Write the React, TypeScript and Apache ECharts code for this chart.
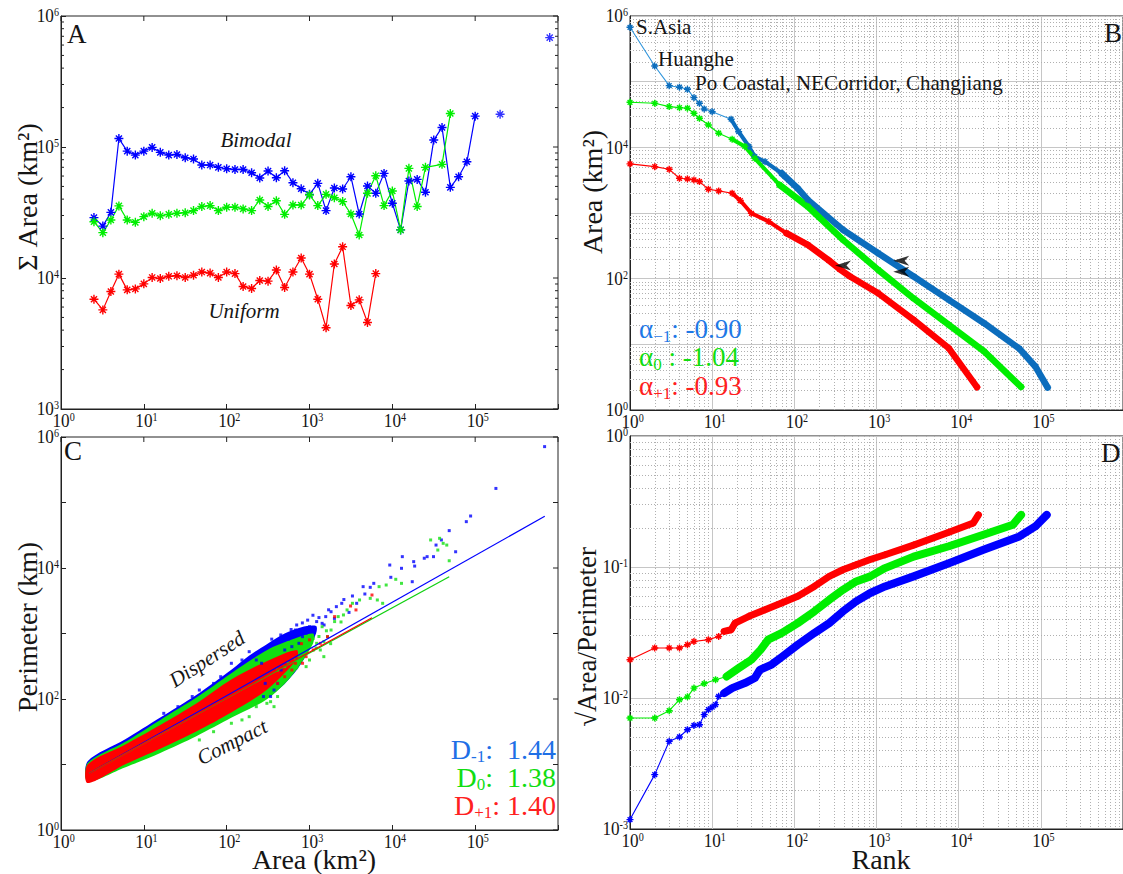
import React, { useEffect, useRef } from "react";
import * as echarts from "echarts";

const FONT = "'Liberation Serif','Times New Roman',serif";
const INK = "#151515";

// ---------------- Panel A : summed area per log-size bin ----------------
const binArea = [2.5, 3.2, 4.0, 5.0, 6.3, 7.9, 10, 12.6, 15.8, 20, 25.1, 31.6, 39.8, 50.1, 63.1, 79.4, 100, 126, 158, 200, 251, 316, 398, 501, 631, 794, 1000, 1259, 1585, 1995, 2512, 3162, 3981, 5012, 6310, 7943, 10000, 12589, 15849, 19953, 25119, 31623, 39811, 50119, 63096, 79433, 100000];
const sumAreaBlue = [28900, 24900, 31700, 116000, 93000, 86700, 93000, 99300, 91000, 86700, 87700, 82800, 80900, 72800, 72800, 69900, 68200, 67400, 67400, 63600, 58000, 65500, 58300, 65900, 53400, 48000, 43500, 52800, 32700, 48600, 47800, 59300, 30800, 50400, 44300, 62900, 37200, 23300, 55000, 56600, 45100, 113000, 141000, 49200, 59300, 77100, 172000];
const isolatedBlueArea = [200000, 794000];
const isolatedBlueSum = [178000, 684000];
const sumAreaGreen = [26900, 22200, 27700, 35500, 27700, 26600, 29400, 31200, 29900, 30600, 31200, 31500, 32700, 35100, 35700, 32700, 34700, 34700, 33700, 32700, 39400, 35100, 38900, 30600, 36100, 36100, 43000, 35700, 43500, 41000, 38300, 30800, 21300, 44300, 60400, 35700, 46100, 23300, 68700, 35100, 69900, null, 73700, 180000];
const sumAreaRed = [6890, 5710, 7880, 10700, 8120, 8260, 9020, 10100, 9910, 10300, 10400, 10100, 10500, 11100, 10900, 10100, 11100, 10800, 8610, 8320, 9570, 9460, 11500, 8460, 11100, 14200, 10700, 6890, 4170, 12800, 17300, 6170, 6810, 4580, 10800];

// ---------------- Panel B : rank-size ----------------
const rankBBlue = [1, 2, 3, 4, 5, 6, 7, 8, 10, 17, 21, 28, 33, 44, 70, 110, 146, 392, 1050, 2830, 7600, 20400, 54800, 85700, 121000];
const areaBBlue = [673000, 173000, 86900, 82300, 76600, 57100, 46900, 38400, 34900, 26800, 17300, 10300, 7220, 6050, 4030, 2380, 1580, 553, 244, 108, 47.5, 21, 8.6, 4.6, 2.2];
const rankBGreen = [1, 2, 3, 4, 5, 6, 7, 9, 12, 17.5, 25, 33, 66, 146, 392, 1050, 2830, 7600, 20400, 57500];
const areaBGreen = [48500, 46900, 41700, 40200, 39400, 33000, 27700, 21900, 16400, 13300, 10300, 6800, 2680, 1250, 390, 136, 50, 19.8, 7.8, 2.25];
const rankBRed = [1, 2, 3, 4, 5, 6, 7, 9, 12, 17.5, 22, 30, 49, 80, 146, 263, 355, 477, 1050, 2830, 7600, 16700];
const areaBRed = [5590, 5080, 4630, 3380, 3300, 3190, 3010, 2300, 2170, 2000, 1550, 990, 740, 492, 327, 190, 140, 108, 60, 23.6, 8.7, 2.23];
const arrowRank = [392, 2000, 2000];
const arrowArea = [158, 187, 128];

// ---------------- Panel C : perimeter vs area ----------------
const cBlueUpper = [[2.1, 11.2], [5.9, 24], [15.8, 52], [43, 115], [115, 282], [186, 457], [309, 692], [501, 1000], [800, 1250], [1200, 1300]];
const cBlueLower = [[2.1, 5.8], [5.9, 9.5], [15.8, 15.8], [43, 28], [115, 55], [186, 72], [309, 105], [501, 170], [800, 350], [1200, 1000]];
const cGreenUpper = [[2.1, 10.5], [5.9, 22], [15.8, 48], [43, 105], [115, 250], [309, 560], [600, 800], [1100, 1000]];
const cGreenLower = [[2.1, 5.5], [5.9, 9], [15.8, 15], [43, 27], [115, 52], [309, 100], [600, 220], [1100, 700]];
const cRedUpper = [[2.1, 10], [5.9, 20], [15.8, 40], [43, 85], [115, 200], [309, 380], [700, 560]];
const cRedLower = [[2.1, 5.2], [5.9, 10], [15.8, 17.4], [43, 32], [115, 63], [309, 140], [700, 400]];
const cBlueDots = [[689000, 713000], [178000, 164000], [78200, 51000], [88100, 62200], [48600, 37200], [58100, 17700], [39100, 26800], [33700, 22400], [26300, 14900], [24300, 14100], [31400, 14900], [18100, 12500], [18600, 10700], [13200, 14900], [12900, 9890], [17400, 6180], [9310, 11100], [9590, 7210], [5970, 5830], [5410, 5070], [4660, 4010], [4440, 5190], [3710, 2890], [3300, 3740], [2450, 2890], [2110, 2570], [1820, 2150], [1570, 1810], [1420, 1430], [1220, 1520], [1110, 1130], [1000, 1270], [910, 1010], [824, 895], [746, 708], [676, 1130], [612, 630], [502, 560], [455, 277], [412, 173], [373, 137], [339, 109], [278, 109], [292, 173], [264, 351], [46.8, 137], [69.5, 173], [114, 351], [187, 528], [84.7, 219], [153, 394], [228, 394], [38.4, 109], [25.8, 76.4], [17.4, 60.4], [600, 1150], [700, 1350], [450, 950], [350, 820], [950, 1600], [1300, 1750], [1500, 1350], [2000, 1700], [1700, 2300], [820, 1450], [1100, 1900], [2600, 3300], [3000, 2100], [560, 820], [400, 760]];
const cGreenDots = [[37200, 28400], [41100, 23800], [45400, 22400], [29000, 26800], [48600, 12900], [35400, 18800], [11000, 6720], [12900, 5830], [8430, 5500], [6920, 5190], [6590, 3250], [7640, 2890], [5410, 3440], [4020, 3250], [3300, 2890], [2840, 2290], [2570, 1920], [2220, 1810], [2010, 1520], [1820, 1130], [1650, 895], [1490, 752], [1420, 1270], [1220, 708], [1110, 843], [910, 708], [824, 443], [676, 394], [555, 351], [502, 312], [412, 277], [1350, 560], [1490, 443], [1000, 394], [910, 312], [412, 109], [373, 76.4], [339, 91], [69.5, 31.7], [114, 42.6], [187, 53.7], [228, 76.4], [306, 85.9], [153, 47.9], [46.8, 23.7], [1300, 900], [1600, 1100], [2400, 1500], [1800, 700], [700, 300], [900, 500], [1200, 600]];
const cRedDots = [[5680, 3870], [3640, 2290], [3130, 2630], [2010, 1810], [1650, 895], [1350, 708], [1110, 560], [910, 443], [824, 351], [676, 351], [612, 277], [502, 219], [412, 173], [306, 154], [800, 700], [1000, 800]];
const fitBlue = [[2.18, 7.35], [692000, 61700]];
const fitGreen = [[2.18, 7.35], [48600, 7360]];
const fitRed = [[2.18, 7.35], [5680, 1740]];

// ---------------- Panel D : compactness vs rank ----------------
const rankDBlue = [1, 2, 3, 4, 5, 6, 7, 8, 9, 10, 11, 12, 14, 17.5, 25, 33, 38, 53, 72, 110, 175, 266, 390, 565, 840, 1270, 2830, 7600, 20400, 54800, 85700, 118000];
const ratioDBlue = [0.00118, 0.0026, 0.00467, 0.00504, 0.00573, 0.00618, 0.00625, 0.00746, 0.00815, 0.00853, 0.0089, 0.0103, 0.0109, 0.0119, 0.013, 0.0142, 0.0164, 0.018, 0.0208, 0.0255, 0.0313, 0.0373, 0.0458, 0.0546, 0.0633, 0.0711, 0.0848, 0.107, 0.136, 0.171, 0.204, 0.25];
const rankDGreen = [1, 2, 3, 4, 5, 6, 8, 11, 15, 21, 30, 39, 48, 70, 110, 175, 266, 390, 565, 840, 1270, 2830, 7600, 20400, 45700, 57500];
const ratioDGreen = [0.00703, 0.00703, 0.008, 0.0097, 0.0102, 0.0119, 0.0129, 0.0138, 0.0146, 0.0169, 0.0196, 0.0234, 0.0279, 0.0313, 0.0373, 0.0458, 0.0562, 0.067, 0.0776, 0.0848, 0.0981, 0.12, 0.144, 0.177, 0.21, 0.25];
const rankDRed = [1, 2, 3, 4, 5, 6, 9, 12, 14, 17, 19, 28, 44, 70, 110, 175, 266, 390, 565, 840, 1270, 2830, 7600, 15100, 17400];
const ratioDRed = [0.0196, 0.0241, 0.0241, 0.0241, 0.0255, 0.027, 0.0279, 0.0295, 0.0322, 0.0332, 0.0373, 0.042, 0.0472, 0.0531, 0.0597, 0.0711, 0.0848, 0.0953, 0.104, 0.114, 0.124, 0.147, 0.184, 0.217, 0.25];

// tick label exponents shown
const xLabelExp = [0, 1, 2, 3, 4, 5];
const yLabelExpA = [3, 4, 5, 6];
const yLabelExpBC = [0, 2, 4, 6];
const yLabelExpD = [-3, -2, -1, 0];

const STAR = "path://M5,0L5,10M0,5L10,5M1.6,1.6L8.4,8.4M1.6,8.4L8.4,1.6";
const ARROW = "path://M0,5L14,0L10,5L14,10Z";

const LABEL_RICH = {
  base: { fontFamily: FONT, fontSize: 19.5, lineHeight: 20, fill: INK, color: INK, verticalAlign: "bottom" },
  sup: { fontFamily: FONT, fontSize: 11.5, lineHeight: 11, fill: INK, color: INK, verticalAlign: "top" },
};

function logAxis(gi: number, min: number, max: number, grid: boolean, ticks: boolean) {
  return {
    type: "log",
    logBase: 10,
    gridIndex: gi,
    min,
    max,
    axisLine: { show: true, onZero: false, lineStyle: { color: "#222", width: 1 } },
    axisTick: { show: ticks, inside: true, length: 5, lineStyle: { color: "#222" } },
    splitLine: { show: grid, lineStyle: { color: "#c6c6c6", width: 1 } },
    minorTick: { show: false },
    minorSplitLine: { show: false },
    axisLabel: { show: false },
  };
}

// tick labels (10 with superscript exponent) placed through the axis scales
function tickLabels(gi: number, xr: number[], yr: number[], xShown: number[], yShown: number[]) {
  return {
    type: "custom",
    xAxisIndex: gi,
    yAxisIndex: gi,
    silent: true,
    z: 20,
    clip: false,
    data: [[Math.pow(10, xr[0]), Math.pow(10, yr[0])]],
    renderItem: (params: any, api: any) => {
      const cs = params.coordSys;
      const x0 = cs.x, y1 = cs.y + cs.height;
      const ch: any[] = [];
      xShown.forEach((e) => {
        const px = api.coord([Math.pow(10, e), Math.pow(10, yr[0])])[0];
        ch.push({
          type: "text",
          x: px - 8.5,
          y: y1 + 2,
          scaleX: 0.88,
          style: { text: `{base|10}{sup|${e}}`, rich: LABEL_RICH, fill: INK, align: "left", textAlign: "left", verticalAlign: "top", textVerticalAlign: "top" },
        });
      });
      yShown.forEach((e) => {
        const py = api.coord([Math.pow(10, xr[0]), Math.pow(10, e)])[1];
        ch.push({
          type: "text",
          x: x0 - 2,
          y: py,
          scaleX: 0.88,
          style: { text: `{base|10}{sup|${e}}`, rich: LABEL_RICH, fill: INK, align: "right", textAlign: "right", verticalAlign: "middle", textVerticalAlign: "middle" },
        });
      });
      return { type: "group", children: ch };
    },
  };
}

function frame(gi: number, xr: number[], yr: number[], mode: { grid?: boolean; ticks?: boolean; yMinor?: boolean }) {
  return {
    type: "custom",
    xAxisIndex: gi,
    yAxisIndex: gi,
    silent: true,
    z: mode.grid ? 1 : 6,
    clip: false,
    data: [[Math.pow(10, xr[0]), Math.pow(10, yr[0])]],
    renderItem: (params: any, api: any) => {
      const cs = params.coordSys;
      const x0 = cs.x, y0 = cs.y, x1 = cs.x + cs.width, y1 = cs.y + cs.height;
      const X = (v: number) => api.coord([v, Math.pow(10, yr[0])])[0];
      const Y = (v: number) => api.coord([Math.pow(10, xr[0]), v])[1];
      const ch: any[] = [];
      const seg = (a: number, b: number, c: number, d: number, style: any) =>
        ch.push({ type: "line", shape: { x1: a, y1: b, x2: c, y2: d }, style });
      const minor = { stroke: "#b0b0b0", lineWidth: 1, lineDash: [1, 2] };
      const tick = { stroke: "#222", lineWidth: 1 };
      if (mode.grid) {
        for (let d = xr[0]; d < xr[1]; d++)
          for (let m = 2; m <= 9; m++) {
            const p = Math.round(X(m * Math.pow(10, d))) + 0.5;
            seg(p, y0, p, y1, minor);
          }
        for (let d = yr[0]; d < yr[1]; d++)
          for (let m = 2; m <= 9; m++) {
            const p = Math.round(Y(m * Math.pow(10, d))) + 0.5;
            seg(x0, p, x1, p, minor);
          }
      }
      if (mode.ticks) {
        for (let d = xr[0]; d <= xr[1]; d++) {
          const p = X(Math.pow(10, d));
          seg(p, y0, p, y0 + 5, tick);
        }
        for (let d = yr[0]; d <= yr[1]; d++) {
          const p = Y(Math.pow(10, d));
          seg(x1, p, x1 - 5, p, tick);
        }
        if (mode.yMinor)
          for (let d = yr[0]; d < yr[1]; d++)
            for (let m = 2; m <= 9; m++) {
              const p = Y(m * Math.pow(10, d));
              seg(x0, p, x0 + 3, p, tick);
              seg(x1, p, x1 - 3, p, tick);
            }
      }
      return { type: "group", children: ch };
    },
  };
}

function starLine(gi: number, xs: number[], ys: (number | null)[], color: string, size: number, lw: number, lineColor?: string) {
  return {
    type: "line",
    xAxisIndex: gi,
    yAxisIndex: gi,
    data: ys.map((y, i) => [xs[i], y]),
    connectNulls: true,
    symbol: STAR,
    symbolSize: size,
    showSymbol: true,
    showAllSymbol: true,
    lineStyle: { color: lineColor || color, width: lw },
    itemStyle: { color, borderColor: color, borderWidth: 1.4 },
    silent: true,
    z: 3,
  };
}

function thickLine(gi: number, xs: number[], ys: number[], from: number, color: string, width: number) {
  const data = xs.map((x, i) => [x, ys[i]]).filter((p) => p[0] >= from);
  return {
    type: "line",
    xAxisIndex: gi,
    yAxisIndex: gi,
    data,
    symbol: "none",
    lineStyle: { color, width, cap: "round", join: "round" },
    silent: true,
    z: 3,
  };
}

function band(gi: number, upper: number[][], lower: number[][], color: string, z: number) {
  return {
    type: "custom",
    xAxisIndex: gi,
    yAxisIndex: gi,
    silent: true,
    z,
    data: [upper[0]],
    renderItem: (_p: any, api: any) => ({
      type: "polygon",
      shape: { points: upper.concat(lower.slice().reverse()).map((p) => api.coord(p)), smooth: 0.3 },
      style: { fill: color },
    }),
  };
}

function dots(gi: number, pts: number[][], color: string, z: number) {
  return { type: "scatter", xAxisIndex: gi, yAxisIndex: gi, data: pts, symbol: "rect", symbolSize: 3, itemStyle: { color }, silent: true, z };
}

function fitLine(gi: number, pts: number[][], color: string) {
  return { type: "line", xAxisIndex: gi, yAxisIndex: gi, data: pts, symbol: "none", lineStyle: { color, width: 1.2 }, silent: true, z: 8 };
}

function txt(x: number, y: number, text: string, size: number, extra: any = {}) {
  return {
    type: "text",
    x,
    y,
    rotation: extra.rotation || 0,
    z: 100,
    style: {
      text,
      fontFamily: FONT,
      fontSize: size,
      fontStyle: extra.italic ? "italic" : "normal",
      fill: extra.color || INK,
      align: extra.align || "left",
      textAlign: extra.align || "left",
      verticalAlign: "middle",
      textVerticalAlign: "middle",
    },
  };
}

// main text with a lowered subscript; yCenter = vertical centre of the main glyphs
function subLabel(x: number, yCenter: number, main: string, sub: string, rest: string, color: string, size: number, align: string) {
  const rich = {
    m: { fontFamily: FONT, fontSize: size, lineHeight: 30, verticalAlign: "top", fill: color, color },
    u: { fontFamily: FONT, fontSize: Math.round(size * 0.62), lineHeight: 18, padding: [20, 0, 0, 0], verticalAlign: "bottom", fill: color, color },
  };
  return {
    type: "text",
    x,
    y: yCenter - 15,
    z: 100,
    style: {
      text: `{m|${main}}{u|${sub}}{m|${rest}}`,
      rich,
      fill: color,
      align,
      textAlign: align,
      verticalAlign: "top",
      textVerticalAlign: "top",
    },
  };
}

const BLUE = "#0000ff";
const GREEN = "#00ee00";
const RED = "#ff0000";
const BBLUE = "#0b6dbd";
const CGREEN = "#11e011";

const option: any = {
  animation: false,
  backgroundColor: "#ffffff",
  grid: [
    { left: 61, top: 16, width: 497, height: 393 },
    { left: 630, top: 16, width: 499, height: 394 },
    { left: 61, top: 437, width: 497, height: 393 },
    { left: 630, top: 436, width: 499, height: 393 },
  ].map((g) => ({ ...g, show: true, borderColor: "#222", borderWidth: 1, backgroundColor: "transparent" })),
  xAxis: [
    logAxis(0, 1, 1e6, false, true),
    logAxis(1, 1, 1e6, true, false),
    logAxis(2, 1, 1e6, false, true),
    logAxis(3, 1, 1e6, true, false),
  ],
  yAxis: [
    logAxis(0, 1e3, 1e6, false, true),
    logAxis(1, 1, 1e6, true, false),
    logAxis(2, 1, 1e6, false, true),
    logAxis(3, 1e-3, 1, true, false),
  ],
  series: [
    // A
    frame(0, [0, 6], [3, 6], { ticks: true, yMinor: true }),
    tickLabels(0, [0, 6], [3, 6], xLabelExp, yLabelExpA),
    starLine(0, binArea, sumAreaBlue, BLUE, 9, 1.2),
    {
      type: "scatter", xAxisIndex: 0, yAxisIndex: 0, symbol: STAR, symbolSize: 9,
      data: isolatedBlueArea.map((x, i) => [x, isolatedBlueSum[i]]),
      itemStyle: { color: BLUE, borderColor: BLUE, borderWidth: 1.4 }, silent: true, z: 3,
    },
    starLine(0, binArea, sumAreaGreen, GREEN, 9, 1.2),
    starLine(0, binArea, sumAreaRed, RED, 9, 1.2),
    // B
    frame(1, [0, 6], [0, 6], { grid: true }),
    tickLabels(1, [0, 6], [0, 6], xLabelExp, yLabelExpBC),
    starLine(1, rankBBlue, areaBBlue, BBLUE, 7, 1.1, "#2f95dc"),
    thickLine(1, rankBBlue, areaBBlue, 17, BBLUE, 4),
    thickLine(1, rankBBlue, areaBBlue, 60, BBLUE, 6.5),
    starLine(1, rankBGreen, areaBGreen, GREEN, 7, 1.1),
    thickLine(1, rankBGreen, areaBGreen, 17, GREEN, 4),
    thickLine(1, rankBGreen, areaBGreen, 60, GREEN, 6.5),
    starLine(1, rankBRed, areaBRed, RED, 7, 1.1),
    thickLine(1, rankBRed, areaBRed, 17, RED, 4),
    thickLine(1, rankBRed, areaBRed, 60, RED, 6.5),
    {
      type: "scatter", xAxisIndex: 1, yAxisIndex: 1, symbol: ARROW, symbolSize: [16, 10],
      data: arrowRank.map((x, i) => [x, arrowArea[i]]), itemStyle: { color: "#000" }, silent: true, z: 9,
    },
    // C
    band(2, cBlueUpper, cBlueLower, BLUE, 2),
    band(2, cGreenUpper, cGreenLower, CGREEN, 3),
    band(2, cRedUpper, cRedLower, RED, 4),
    dots(2, cBlueDots, BLUE, 5),
    dots(2, cGreenDots, CGREEN, 5),
    dots(2, cRedDots, RED, 5),
    fitLine(2, fitBlue, BLUE),
    fitLine(2, fitGreen, "#11d011"),
    fitLine(2, fitRed, RED),
    frame(2, [0, 6], [0, 6], { ticks: true }),
    tickLabels(2, [0, 6], [0, 6], xLabelExp, yLabelExpBC),
    // D
    frame(3, [0, 6], [-3, 0], { grid: true }),
    tickLabels(3, [0, 6], [-3, 0], xLabelExp, yLabelExpD),
    starLine(3, rankDBlue, ratioDBlue, BLUE, 7, 1.1),
    thickLine(3, rankDBlue, ratioDBlue, 14, BLUE, 8),
    starLine(3, rankDGreen, ratioDGreen, GREEN, 7, 1.1),
    thickLine(3, rankDGreen, ratioDGreen, 15, GREEN, 8),
    starLine(3, rankDRed, ratioDRed, RED, 7, 1.1),
    thickLine(3, rankDRed, ratioDRed, 14, RED, 7),
  ],
  graphic: [
    // panel letters
    txt(67, 34, "A", 27),
    txt(1104, 33, "B", 27),
    txt(64, 451, "C", 27),
    txt(1101, 453, "D", 27),
    // panel A annotations
    txt(256, 140, "Bimodal", 21, { italic: true, align: "center" }),
    txt(244, 311, "Uniform", 21, { italic: true, align: "center" }),
    // panel B annotations
    txt(636, 27, "S.Asia", 21),
    txt(658, 59, "Huanghe", 21),
    txt(695, 83, "Po Coastal, NECorridor, Changjiang", 21),
    subLabel(639, 330, "α", "−1", ": -0.90", "#1e78e6", 27, "left"),
    subLabel(639, 358, "α", "0", " : -1.04", "#11dd11", 27, "left"),
    subLabel(639, 387, "α", "+1", ": -0.93", "#ff2020", 27, "left"),
    // panel C annotations
    txt(207, 659, "Dispersed", 21, { italic: true, align: "center", rotation: (33 * Math.PI) / 180 }),
    txt(232, 742, "Compact", 21, { italic: true, align: "center", rotation: (27 * Math.PI) / 180 }),
    subLabel(556, 750, "D", "-1", ":  1.44", "#1e6fe6", 28, "right"),
    subLabel(556, 778, "D", "0", ":  1.38", "#11dd11", 28, "right"),
    subLabel(556, 806, "D", "+1", ": 1.40", "#ff2020", 28, "right"),
    // axis names
    txt(27, 197, "Σ Area (km²)", 28, { align: "center", rotation: Math.PI / 2 }),
    txt(592, 192, "Area (km²)", 28, { align: "center", rotation: Math.PI / 2 }),
    txt(27, 627, "Perimeter (km)", 28, { align: "center", rotation: Math.PI / 2 }),
    txt(587, 637, "√Area/Perimeter", 27, { align: "center", rotation: Math.PI / 2 }),
    txt(314, 859, "Area (km²)", 28, { align: "center" }),
    txt(881, 859, "Rank", 28, { align: "center" }),
  ],
};

export default function App() {
  const ref = useRef<HTMLDivElement>(null);
  useEffect(() => {
    const chart = echarts.init(ref.current as HTMLDivElement, undefined, { renderer: "svg" });
    chart.setOption(option);
    return () => chart.dispose();
  }, []);
  return (
    <div
      ref={ref}
      style={{ position: "absolute", left: 0, top: 0, width: 1123, height: 874, background: "#fff", overflow: "hidden" }}
    />
  );
}
